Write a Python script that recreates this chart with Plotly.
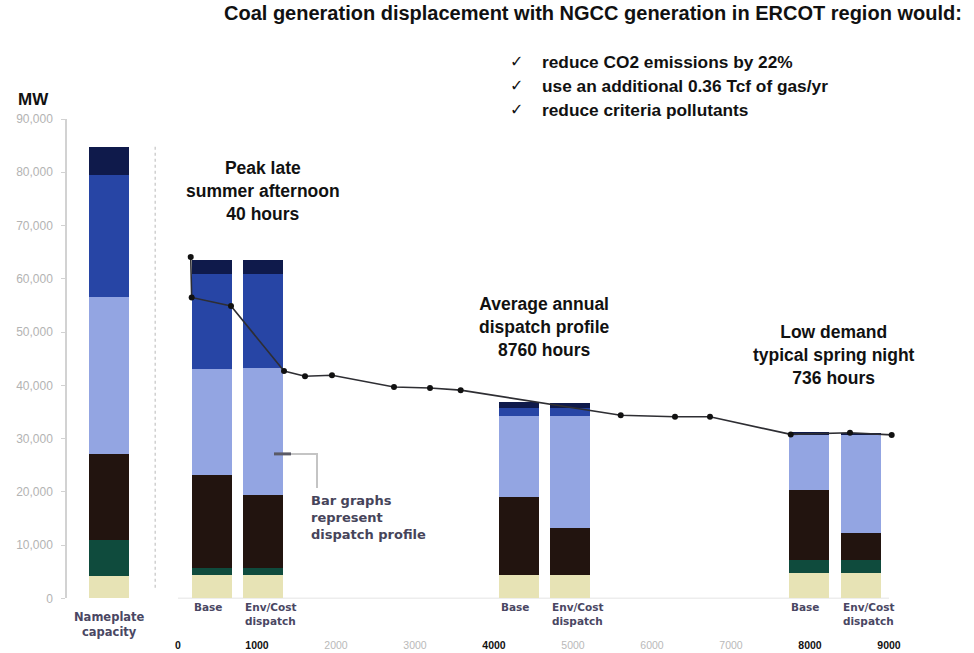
import plotly.graph_objects as go

# ---------------- data ----------------
bar_labels = ["Nameplate capacity", "Peak Base", "Peak Env/Cost", "Average Base",
              "Average Env/Cost", "Low Base", "Low Env/Cost"]
nuclear    = [4300, 4500, 4500, 4400, 4400, 4700, 4700]
wind_other = [6700, 1200, 1200, 0, 0, 2500, 2500]
coal       = [16200, 17400, 13700, 14700, 8800, 13100, 5000]
ngcc       = [29400, 20000, 23800, 15200, 21100, 10400, 18600]
gas_steam  = [22800, 17800, 17800, 1400, 1400, 0, 0]
peakers    = [5400, 2600, 2600, 1200, 900, 500, 300]

duration_hours = [161, 173, 671, 1342, 1608, 1949, 2734, 3190, 3578,
                  5604, 6291, 6734, 7756, 8506, 9034]
load_mw = [64100, 56500, 54900, 42700, 41700, 41900, 39700, 39500, 39100,
           34400, 34100, 34100, 30800, 31100, 30700]

y_ticks = [0, 10000, 20000, 30000, 40000, 50000, 60000, 70000, 80000, 90000]
hour_ticks = [0, 1000, 2000, 3000, 4000, 5000, 6000, 7000, 8000, 9000]
bold_hour_ticks = [0, 1000, 4000, 8000, 9000]

bar_bottom_labels = ["Nameplate<br>capacity", "Base", "Env/Cost<br>dispatch", "Base",
                     "Env/Cost<br>dispatch", "Base", "Env/Cost<br>dispatch"]

# ---------------- layout helpers ----------------
# order of slots along the bar axis; None = empty spacing slot
bar_axis_order = (["Nameplate capacity"] + [None] * 5 +
                  ["Peak Base", None, None, "Peak Env/Cost"] + [None] * 14 +
                  ["Average Base", None, None, "Average Env/Cost"] + [None] * 13 +
                  ["Low Base", None, None, "Low Env/Cost"])
bar_x = [bar_axis_order.index(c) for c in bar_labels]
BAR_W = 2.34

W, H = 974, 653
PL, PR, PT, PB = 67, 960, 119.3, 637
def fx(px):
    return (px - PL) / (PR - PL)
def fy(py):
    return (PB - py) / (PB - PT)

ZERO_PY = 598.5
y_dom0 = (PB - ZERO_PY) / (PB - PT)

series = [
    ("Nuclear", nuclear, "#e7e3b5"),
    ("Wind / other", wind_other, "#0f4b3d"),
    ("Coal", coal, "#22140f"),
    ("NGCC", ngcc, "#93a5e2"),
    ("Gas steam", gas_steam, "#2745a5"),
    ("Combustion turbines", peakers, "#0f1a4b"),
]

fig = go.Figure()
for name, vals, col in series:
    fig.add_trace(go.Bar(
        x=bar_x, y=vals, name=name, width=BAR_W,
        marker=dict(color=col, line=dict(width=0)),
        xaxis="x", yaxis="y", showlegend=False,
        hovertemplate=name + ": %{y:,} MW<extra></extra>",
    ))

fig.add_trace(go.Scatter(
    x=duration_hours, y=load_mw, mode="lines+markers",
    line=dict(color="#2e2e33", width=1.6),
    marker=dict(color="#111111", size=6),
    xaxis="x2", yaxis="y", showlegend=False, name="Load duration",
))

hour_text = [f"<b>{h}</b>" if h in bold_hour_ticks
             else f"<span style='color:#b9b9b9'>{h}</span>" for h in hour_ticks]

fig.update_layout(
    width=W, height=H,
    margin=dict(l=PL, r=W - PR, t=PT, b=H - PB, pad=0, autoexpand=False),
    paper_bgcolor="white", plot_bgcolor="white",
    barmode="stack",
    font=dict(family="Liberation Sans, Arial, sans-serif", color="#111"),
    xaxis=dict(domain=[0, 1], range=[(PL - 109.1) / 17.082, (PR - 109.1) / 17.082],
               visible=False, anchor="y", fixedrange=True, automargin=False),
    xaxis2=dict(overlaying="x", anchor="free", position=0, side="bottom",
                range=[(PL - 178) / 0.079, (PR - 178) / 0.079],
                tickmode="array", tickvals=hour_ticks, ticktext=hour_text,
                showline=False, ticks="", showgrid=False, zeroline=False,
                automargin=False,
                tickfont=dict(size=10.5, color="#111")),
    yaxis=dict(domain=[y_dom0, 1], range=[0, 90000],
               tickmode="array", tickvals=y_ticks, tickformat=",",
               showline=True, linecolor="#d2d2d2", linewidth=1.5,
               ticks="outside", ticklen=4, tickcolor="#d2d2d2",
               showgrid=False, zeroline=False, ticklabelstandoff=6,
               automargin=False,
               tickfont=dict(size=12, color="#b3b3b3")),
)

shapes = [
    # baseline under the dispatch bars
    dict(type="line", xref="x2", yref="y", x0=0, x1=9000, y0=0, y1=0,
         line=dict(color="#dcdcdc", width=1.5), layer="below"),
    # dotted separator beside the capacity bar
    dict(type="line", xref="x", yref="y", x0=2.7, x1=2.7, y0=2000, y1=84800,
         line=dict(color="#d0d0d0", width=1.5, dash="dot"), layer="below"),
    # callout connector
    dict(type="path", xref="paper", yref="paper",
         path=f"M {fx(290)} {fy(454)} L {fx(317)} {fy(454)} L {fx(317)} {fy(488)}",
         line=dict(color="#c4c4c4", width=2)),
    dict(type="line", xref="paper", yref="paper",
         x0=fx(274), x1=fx(291), y0=fy(454), y1=fy(454),
         line=dict(color="#5a5a66", width=3)),
]
fig.update_layout(shapes=shapes)

ann = []
def note(text, px, py, size, xanchor="center", color="#111", family=None, bold=True):
    ann.append(dict(
        text=f"<b>{text}</b>" if bold else text,
        x=fx(px), y=fy(py), xref="paper", yref="paper",
        xanchor=xanchor, yanchor="middle", showarrow=False, align=xanchor,
        font=dict(size=size, color=color,
                  family=family or "Liberation Sans, Arial, sans-serif"),
    ))

note("Coal generation displacement with NGCC generation in ERCOT region would:", 593, 13, 20)
for i, line in enumerate(["reduce CO2 emissions by 22%",
                          "use an additional 0.36 Tcf of gas/yr",
                          "reduce criteria pollutants"]):
    note("✓", 508, 62 + 24 * i, 16, xanchor="left", family="DejaVu Sans")
    note(line, 540, 62 + 24 * i, 17.3, xanchor="left")
note("MW", 16, 100, 17, xanchor="left")
note("Peak late<br>summer afternoon<br>40 hours", 263, 191, 17.5)
note("Average annual<br>dispatch profile<br>8760 hours", 544, 327, 17.5)
note("Low demand<br>typical spring night<br>736 hours", 834, 355, 17.5)
note("Bar graphs<br>represent<br>dispatch profile", 309, 518, 13, xanchor="left",
     color="#46445a", family="DejaVu Sans")

# labels under the bars
label_col = "#4a4763"
for xv, lab in zip(bar_x, bar_bottom_labels):
    if lab.startswith("Nameplate"):
        ann.append(dict(text=f"<b>{lab}</b>", x=xv, y=0, xref="x", yref="y",
                        xanchor="center", yanchor="top", yshift=-10, showarrow=False,
                        font=dict(size=11.5, color=label_col, family="DejaVu Sans")))
    else:
        ann.append(dict(text=f"<b>{lab}</b>", x=xv - BAR_W / 2, y=0, xref="x", yref="y",
                        xanchor="left", yanchor="top", yshift=-1, showarrow=False,
                        align="left",
                        font=dict(size=10.5, color=label_col, family="DejaVu Sans")))
fig.update_layout(annotations=ann)

fig.write_html("out.html")
